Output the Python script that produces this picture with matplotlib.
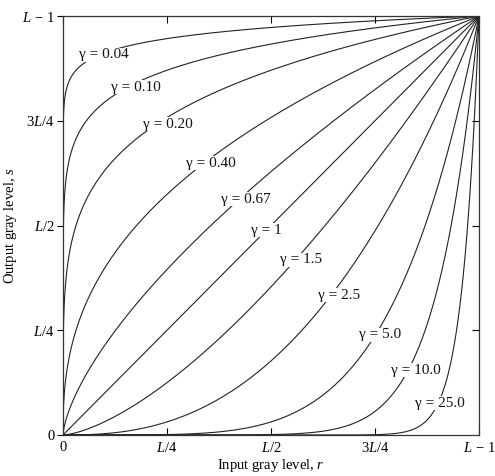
import numpy as np
import matplotlib
matplotlib.use("Agg")
import matplotlib.pyplot as plt

gammas = [0.04, 0.10, 0.20, 0.40, 0.67, 1, 1.5, 2.5, 5.0, 10.0, 25.0]
gamma_labels = ["0.04", "0.10", "0.20", "0.40", "0.67", "1", "1.5", "2.5", "5.0", "10.0", "25.0"]
label_x = [0.099, 0.175, 0.252, 0.356, 0.440, 0.490, 0.573, 0.663, 0.762, 0.849, 0.906]
label_y = [0.907, 0.830, 0.742, 0.649, 0.563, 0.489, 0.418, 0.334, 0.239, 0.155, 0.076]
tick_vals = [0, 0.25, 0.5, 0.75, 1.0]
tick_text = ["0", "$L/4$", "$L/2$", "$3L/4$", "$L\\,-\\,1$"]

plt.rcParams['font.family'] = ['Liberation Serif', 'DejaVu Serif']
plt.rcParams['mathtext.fontset'] = 'custom'
plt.rcParams['mathtext.rm'] = 'Liberation Serif'
plt.rcParams['mathtext.it'] = 'Liberation Serif:italic'

fig = plt.figure(figsize=(4.95, 4.76), dpi=100)
ax = fig.add_axes([63/495, 1 - 435/476, 416/495, 419/476])

r = np.linspace(0, 1, 2000)
for g in gammas:
    ax.plot(r, r ** g, color='#222222', lw=0.8, zorder=2)

for lab, x, y in zip(gamma_labels, label_x, label_y):
    ax.text(x, y, "γ = " + lab, ha='center', va='center', fontsize=11,
            color='#111111', zorder=3,
            bbox=dict(facecolor='white', edgecolor='none', pad=0.5))

ax.set_xlim(0, 1)
ax.set_ylim(0, 1)
ax.set_xticks(tick_vals)
ax.set_yticks(tick_vals)
ax.set_xticklabels(tick_text, fontsize=10.5)
ax.set_yticklabels(tick_text, fontsize=10.5)
ax.tick_params(axis='x', direction='in', length=5, width=0.8, top=True, pad=4)
ax.tick_params(axis='y', direction='out', length=4, width=0.8, pad=2)
for s in ax.spines.values():
    s.set_linewidth(0.9)
    s.set_color('#333333')

# inward ticks on right spine
ax2 = ax.secondary_yaxis('right')
ax2.set_yticks([0.25, 0.5, 0.75])
ax2.tick_params(direction='in', length=5, width=0.8, labelright=False)
ax2.spines['right'].set_visible(False)

ax.set_xlabel("Input gray level, $r$", fontsize=10.5, labelpad=2)
ax.set_ylabel("Output gray level, $s$", fontsize=10.5, labelpad=2)

fig.savefig("out.png", dpi=100)
